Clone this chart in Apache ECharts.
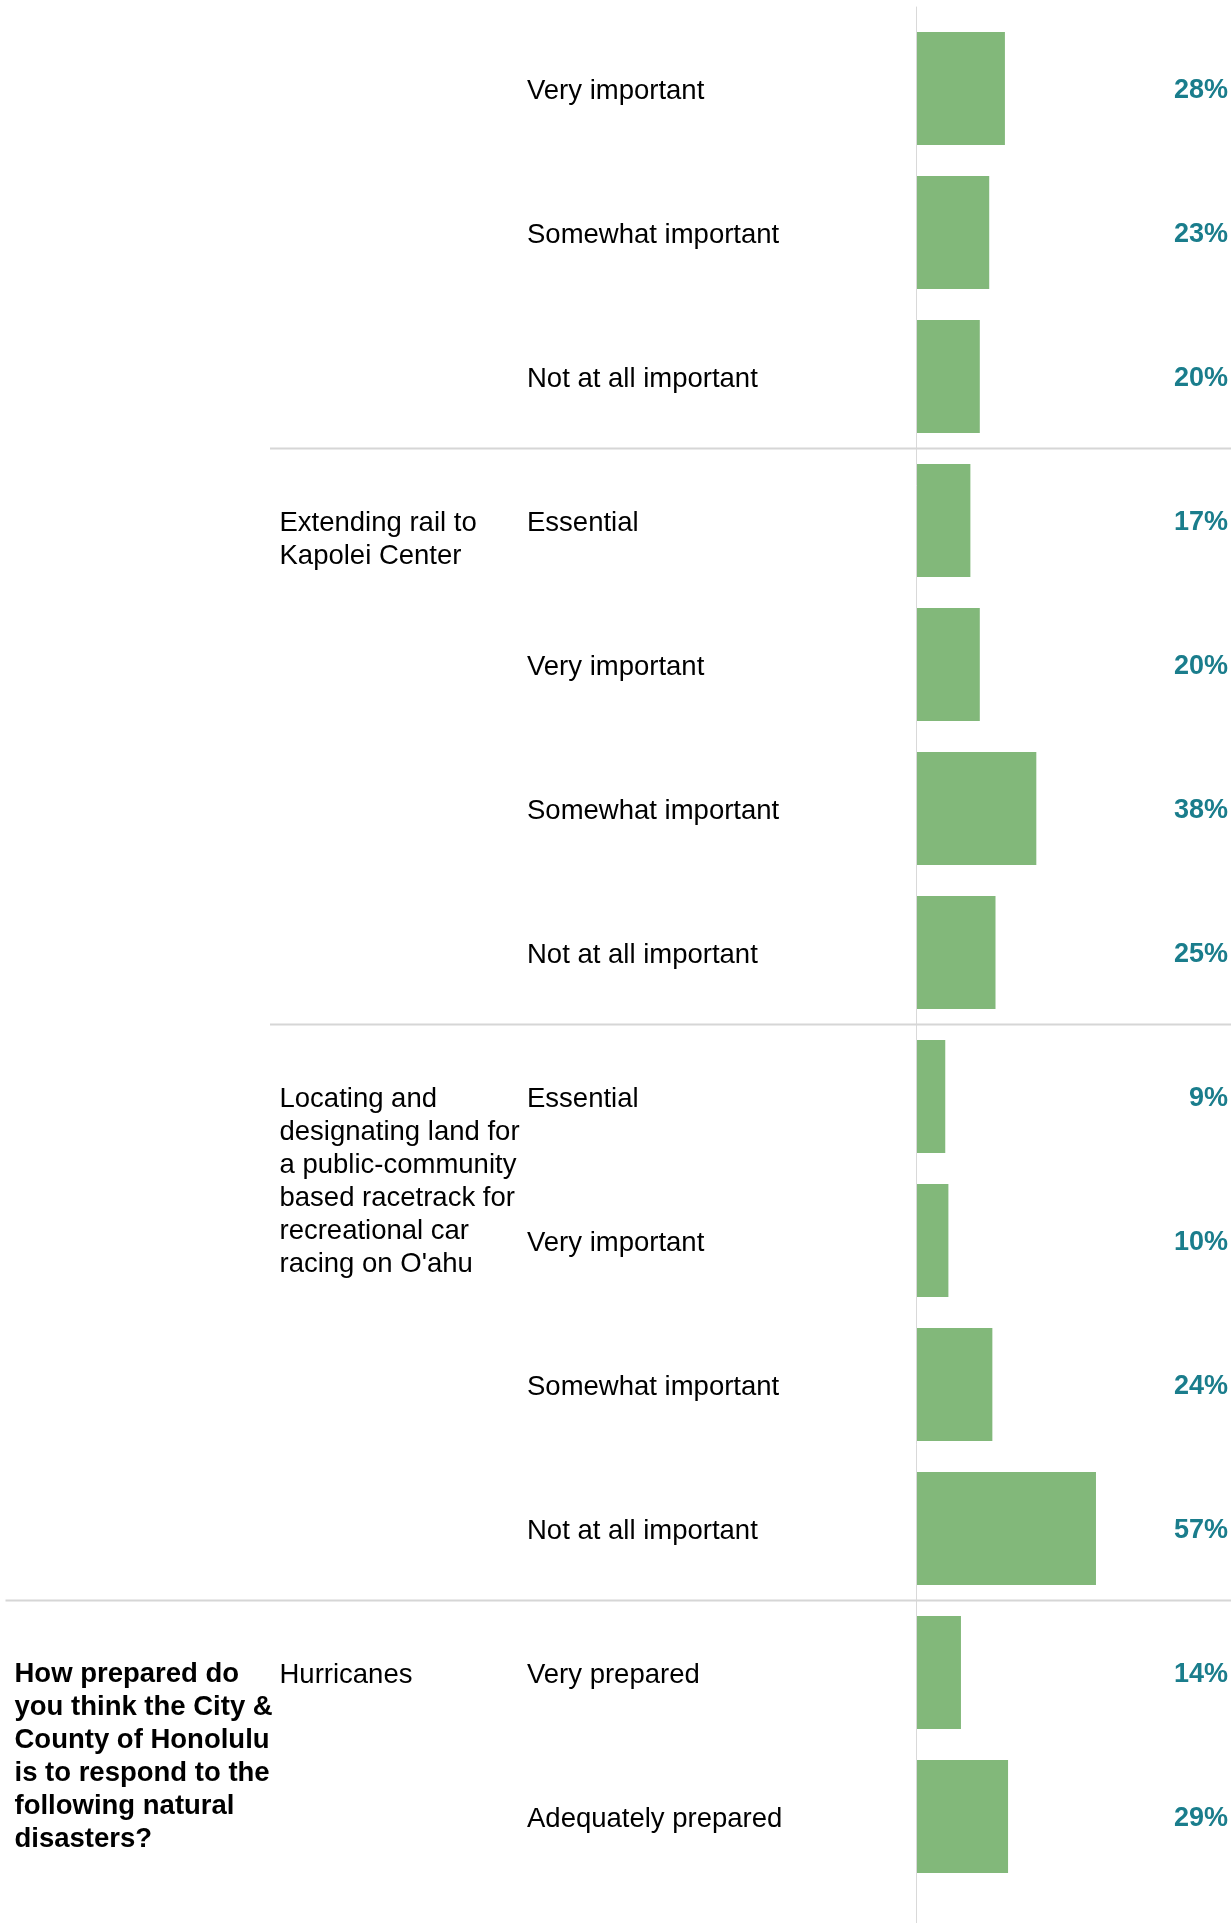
<!DOCTYPE html>
<html>
<head>
<meta charset="utf-8">
<script src="https://cdn.jsdelivr.net/npm/echarts@6/dist/echarts.min.js"></script>
<style>
html,body{margin:0;padding:0;background:#fff;}
#c{width:1231px;height:1923px;}
</style>
</head>
<body>
<div id="c"></div>
<script>
// ---- data ----
const responses = [
  "Very important","Somewhat important","Not at all important",
  "Essential","Very important","Somewhat important","Not at all important",
  "Essential","Very important","Somewhat important","Not at all important",
  "Very prepared","Adequately prepared"
];
const values = [28,23,20, 17,20,38,25, 9,10,24,57, 14,29];
const groupLabels = [
  "",
  "Extending rail to\nKapolei Center",
  "Locating and\ndesignating land for\na public-community\nbased racetrack for\nrecreational car\nracing on O'ahu",
  "Hurricanes"
];
const groupSizes = [3,4,4,2];
const questionLabels = [
  "",
  "How prepared do\nyou think the City &\nCounty of Honolulu\nis to respond to the\nfollowing natural\ndisasters?"
];
const questionStarts = [0, 11]; // row index where each question block starts

const FONT = '"Liberation Sans", Arial, Helvetica, sans-serif';
const chart = echarts.init(document.getElementById('c'), null, {renderer:'canvas'});

chart.setOption({
  animation:false,
  backgroundColor:'#ffffff',
  grid:[
    {left:917, top:16.5, width:318, height:1872},
    {left:916, top:7, width:10, bottom:0}
  ],
  xAxis:[
    {gridIndex:0, type:'value', min:0, max:100, show:false},
    {gridIndex:1, type:'value', min:0, max:1, show:false}
  ],
  yAxis:[
    {gridIndex:0, type:'category', inverse:true, data:responses,
     axisLine:{show:false}, axisTick:{show:false}, splitLine:{show:false},
     axisLabel:{margin:390, align:'left', interval:0,
       formatter:function(v){return '{t|' + v + '}';},
       rich:{t:{fontSize:27.5, color:'#000', fontFamily:FONT, padding:[5,0,0,0]}}}},
    {gridIndex:0, type:'category', inverse:true, position:'right', data:responses,
     axisLine:{show:false}, axisTick:{show:false}, splitLine:{show:false},
     axisLabel:{inside:true, margin:3, align:'right', interval:0,
       formatter:function(v,i){return '{p|' + values[i] + '%}';},
       rich:{p:{fontSize:27, fontWeight:'bold', color:'#1a7d8c', fontFamily:FONT, padding:[5,0,0,0]}}}},
    {gridIndex:1, type:'value', min:0, max:1,
     axisLine:{show:true, lineStyle:{color:'#d9d9d9', width:1}},
     axisTick:{show:false}, axisLabel:{show:false}, splitLine:{show:false}}
  ],
  series:[
    {type:'bar', xAxisIndex:0, yAxisIndex:0, data:values, barWidth:113,
     itemStyle:{color:'#82b87a'}, silent:true}
  ]
});

// ---- group/question labels and separators, positioned from the category scale ----
function rowY(i){ return chart.convertToPixel({yAxisIndex:0}, i); }
const graphics = [];
let start = 0;
const LH = 33;
const DY = 2.5;
groupLabels.forEach(function(lbl, g){
  if (lbl) {
    graphics.push({type:'text', x:279.5, y:rowY(start) - LH/2 + DY,
      style:{text:lbl, font:'27.5px ' + FONT, fill:'#000', lineHeight:LH, verticalAlign:'top', align:'left'}});
  }
  const end = start + groupSizes[g];
  if (end < responses.length) {
    const sy = (rowY(end-1) + rowY(end)) / 2;
    const newQuestion = questionStarts.indexOf(end) >= 0;
    graphics.push({type:'line', shape:{x1:newQuestion?5.5:270, y1:sy, x2:1231, y2:sy},
      style:{stroke:'#d6d6d6', lineWidth:2}, z:1});
  }
  start = end;
});
questionLabels.forEach(function(q, k){
  if (q) {
    graphics.push({type:'text', x:14.5, y:rowY(questionStarts[k]) - LH/2 + 1.5,
      style:{text:q, font:'bold 27.5px ' + FONT, fill:'#000', lineHeight:LH, verticalAlign:'top', align:'left'}});
  }
});
chart.setOption({graphic:graphics});
</script>
</body>
</html>
